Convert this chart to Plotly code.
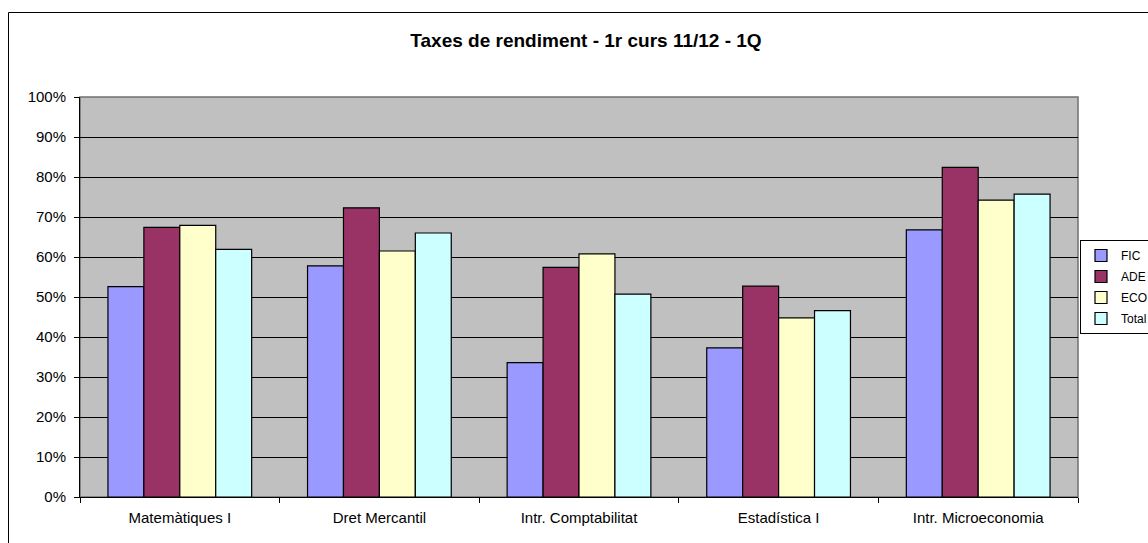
import plotly.graph_objects as go

categories = ["Matemàtiques I", "Dret Mercantil", "Intr. Comptabilitat", "Estadística I", "Intr. Microeconomia"]
fic = [0.526, 0.578, 0.336, 0.373, 0.668]
ade = [0.674, 0.723, 0.574, 0.527, 0.824]
eco = [0.679, 0.615, 0.608, 0.448, 0.742]
total = [0.619, 0.660, 0.507, 0.466, 0.757]
series_names = ["FIC", "ADE", "ECO", "Total"]
series_values = [fic, ade, eco, total]
colors = ["#9999FF", "#993366", "#FFFFCC", "#CCFFFF"]
title_text = "Taxes de rendiment - 1r curs 11/12 - 1Q"

FONT = "Liberation Sans, Arial, sans-serif"
W, H = 1148, 543
L, R, T, B = 80, 70, 97, 46
pw = W - L - R
ph = H - T - B

def px(x):
    return (x - L) / pw

def py(y):
    return (H - B - y) / ph

fig = go.Figure()
for name, vals, col in zip(series_names, series_values, colors):
    fig.add_trace(go.Bar(
        x=categories, y=vals, name=name, legendgroup=name,
        marker=dict(color=col, line=dict(color="black", width=1.2)),
    ))

fig.update_layout(
    width=W, height=H,
    margin=dict(l=L, r=R, t=T, b=B, autoexpand=False),
    paper_bgcolor="white",
    plot_bgcolor="#C0C0C0",
    barmode="group",
    bargap=0.28,
    bargroupgap=0,
    showlegend=True,
    font=dict(family=FONT, size=15, color="black"),
    title=dict(text="<b>" + title_text + "</b>", x=px(586), xref="paper", xanchor="center",
               y=1 - 40 / H, yanchor="middle", font=dict(family=FONT, size=19, color="black")),
    legend=dict(x=px(1080), y=py(240), xanchor="left", yanchor="top",
                bordercolor="black", borderwidth=1, bgcolor="white",
                font=dict(family=FONT, size=12, color="black"),
                traceorder="grouped", tracegroupgap=2),
    xaxis=dict(
        type="category", showline=True, linecolor="black", linewidth=1,
        ticks="outside", tickson="boundaries", ticklen=5, tickcolor="black",
        showgrid=False, tickfont=dict(size=15), ticklabelstandoff=7,
    ),
    yaxis=dict(
        range=[0, 1], dtick=0.1, tickformat=".0%", showline=True, linecolor="black",
        linewidth=1, ticks="outside", ticklen=5, tickcolor="black",
        showgrid=True, gridcolor="black", gridwidth=1, zeroline=False,
        tickfont=dict(size=15), ticklabelstandoff=5,
    ),
    shapes=[
        dict(type="rect", xref="paper", yref="paper", x0=0, x1=1, y0=0, y1=1,
             line=dict(color="#707070", width=1.5), layer="below"),
        dict(type="rect", xref="paper", yref="paper", x0=px(8.5), x1=px(1160), y0=py(560), y1=py(12.5),
             line=dict(color="black", width=1)),
    ],
)

fig.write_html("out.html", config={"displayModeBar": False},
               post_script="document.body.style.margin='0';document.body.style.overflow='hidden';")
